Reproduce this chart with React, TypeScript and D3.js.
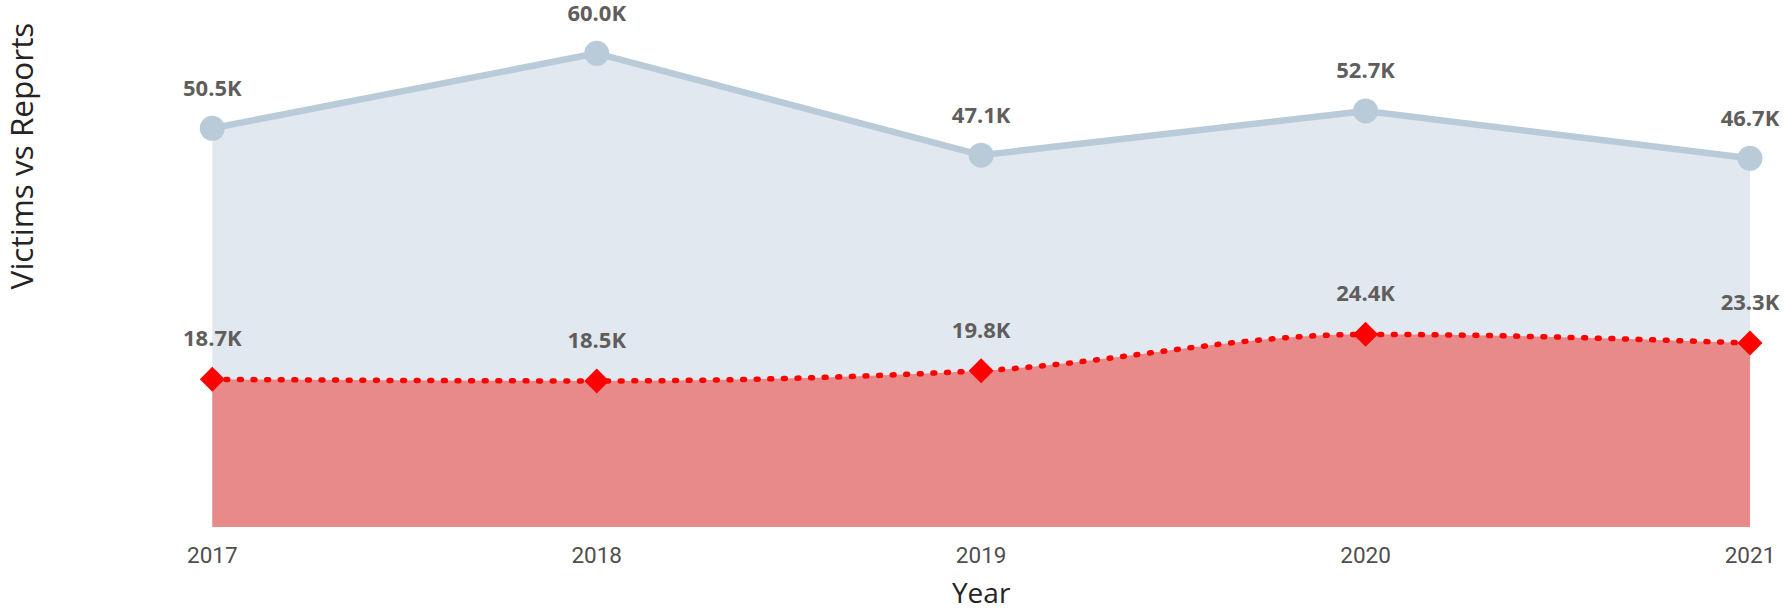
import React from 'react';
import * as d3 from 'd3';

const years = ['2017', '2018', '2019', '2020', '2021'];
const victims = [50500, 60000, 47100, 52700, 46700];
const reports = [18700, 18500, 19800, 24400, 23300];
const xTitle = 'Year';
const yTitle = 'Victims vs Reports';

const W = 1786;
const H = 610;

export default function App() {
  const x = d3.scalePoint<string>().domain(years).range([212.3, 1750]);
  const y = d3.scaleLinear().domain([0, 60000]).range([527, 53.3]);
  const base = y(0);

  const vPts: [number, number][] = years.map((yr, i) => [x(yr) as number, y(victims[i])]);
  const rPts: [number, number][] = years.map((yr, i) => [x(yr) as number, y(reports[i])]);

  const vArea = d3.area<[number, number]>().x(d => d[0]).y0(base).y1(d => d[1]).curve(d3.curveLinear)(vPts) || '';
  const vLine = d3.line<[number, number]>().x(d => d[0]).y(d => d[1]).curve(d3.curveLinear)(vPts) || '';
  const rArea = d3.area<[number, number]>().x(d => d[0]).y0(base).y1(d => d[1]).curve(d3.curveMonotoneX)(rPts) || '';
  const rLine = d3.line<[number, number]>().x(d => d[0]).y(d => d[1]).curve(d3.curveMonotoneX)(rPts) || '';
  const diamond = d3.symbol().type(d3.symbolSquare).size(312)() || '';

  const fmt = (v: number) => d3.format('.1f')(v / 1000) + 'K';
  const labelFont = "'Open Sans', sans-serif";

  return (
    <div style={{ position: 'absolute', left: 0, top: 0 }}>
      <svg width={W} height={H} style={{ display: 'block' }}>
        <rect width={W} height={H} fill="#ffffff" />
        <path d={vArea} fill="#E1E8EF" />
        <path d={rArea} fill="#E98A8A" />
        <path d={vLine} fill="none" stroke="#B9CBD9" strokeWidth={6.5} strokeLinejoin="round" />
        {vPts.map((p, i) => (
          <circle key={'c' + i} cx={p[0]} cy={p[1]} r={12.5} fill="#B9CBD9" />
        ))}
        <path d={rLine} fill="none" stroke="#FF0000" strokeWidth={5.5} strokeDasharray="1.8 11.8" strokeLinecap="round" />
        {rPts.map((p, i) => (
          <path key={'d' + i} d={diamond} transform={`translate(${p[0]},${p[1]}) rotate(45)`} fill="#FF0000" />
        ))}
        {vPts.map((p, i) => (
          <text key={'vl' + i} x={p[0]} y={p[1] - 32.5} textAnchor="middle" fontFamily={labelFont} fontWeight={700} fontSize={22} fill="#5F5E5C">
            {fmt(victims[i])}
          </text>
        ))}
        {rPts.map((p, i) => (
          <text key={'rl' + i} x={p[0]} y={p[1] - 33} textAnchor="middle" fontFamily={labelFont} fontWeight={700} fontSize={22} fill="#5F5E5C">
            {fmt(reports[i])}
          </text>
        ))}
        {years.map(yr => (
          <text key={'t' + yr} x={x(yr) as number} y={563} textAnchor="middle" fontFamily="Roboto, sans-serif" fontWeight={400} fontSize={22.5} fill="#4F4E4C">
            {yr}
          </text>
        ))}
        <text x={(x.range()[0] + x.range()[1]) / 2} y={603} textAnchor="middle" fontFamily={labelFont} fontSize={28} fill="#252423">
          {xTitle}
        </text>
        <text transform={`translate(33,156) rotate(-90)`} textAnchor="middle" fontFamily={labelFont} fontSize={31.5} fill="#252423">
          {yTitle}
        </text>
      </svg>
    </div>
  );
}
